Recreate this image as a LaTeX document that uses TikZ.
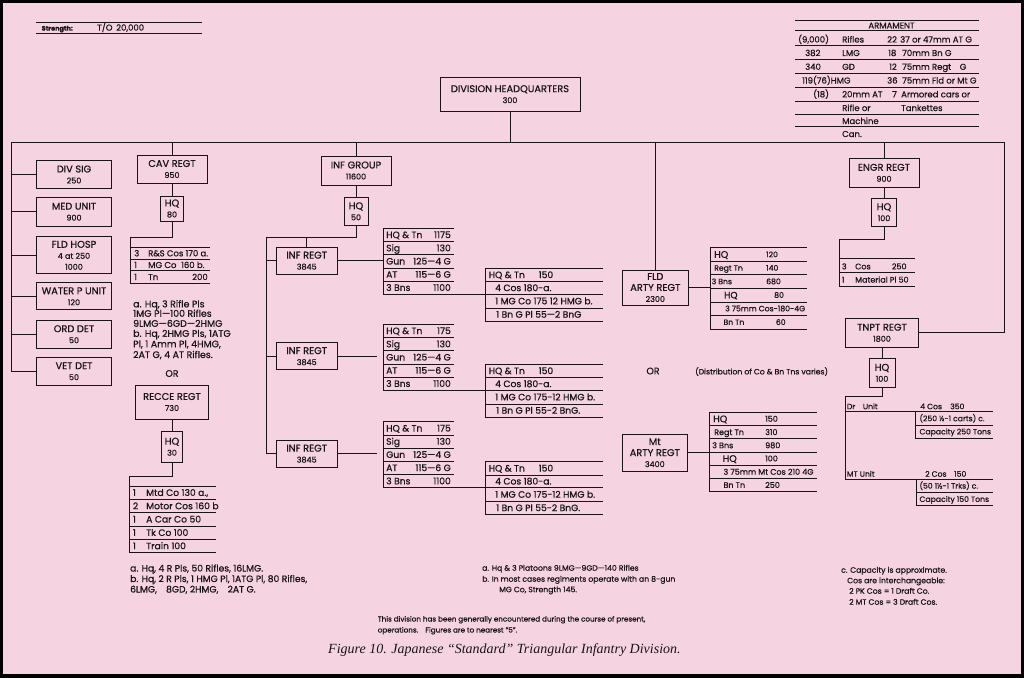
\documentclass[tikz,border=0pt]{standalone}
\usepackage{fontspec}
\setmainfont{Poppins}[FakeBold=0.7]
\newfontfamily\capfont{Liberation Serif}
\definecolor{bgpink}{RGB}{245,211,225}
\definecolor{ink}{RGB}{26,20,26}
\newcommand{\ttlf}{\fontsize{9.8}{11}\selectfont}
\newcommand{\tabf}{\fontsize{8}{9}\selectfont}
\newcommand{\regf}{\fontsize{9.2}{10}\selectfont}
\newcommand{\cvtf}{\fontsize{8.5}{9}\selectfont}
\newcommand{\notef}{\fontsize{9.4}{10}\selectfont}
\newcommand{\rnotef}{\fontsize{9.2}{10}\selectfont}
\newcommand{\smf}{\fontsize{7.7}{8}\selectfont}
\newcommand{\ttf}{\fontsize{7.7}{8}\selectfont}
\newcommand{\arf}{\fontsize{8.5}{9}\selectfont}
\tikzset{
  ln/.style={draw=ink, line width=0.8pt},
  bx/.style={draw=ink, line width=1pt, align=center, inner sep=0pt, font=\ttlf, text=ink},
  tx/.style={inner sep=0pt, anchor=west, text height=5.6pt, text depth=0pt, font=\tabf, text=ink},
  txr/.style={tx, anchor=east},
  txc/.style={tx, anchor=center},
  rg/.style={tx, font=\regf, text height=6.4pt},
  rgr/.style={rg, anchor=east},
  cvt/.style={tx, font=\cvtf, text height=6pt},
  nt/.style={tx, font=\notef, text height=6.6pt},
  rnt/.style={tx, font=\rnotef, text height=6.4pt},
  sm/.style={tx, font=\smf, text height=5.4pt},
  tt/.style={tx, font=\ttf, text height=5.4pt},
  ar/.style={tx, font=\arf, text height=6pt},
}
\newcommand{\tn}[4]{\node[#1] (#2) at (#3) {#4};}
\newcommand{\regtab}[5]{%
  \draw[ln] (454,#2) -- (383.3,#2) -- (383.3,{#2+66}) -- (603.3,{#2+66});
  \foreach \k in {1,2,3,4} {\draw[ln] (383.3,{#2+13.2*\k}) -- (454,{#2+13.2*\k});}
  \draw[ln] (603.3,{#2+40}) -- (485.7,{#2+40}) -- (485.7,{#2+92.8}) -- (603.3,{#2+92.8});
  \draw[ln] (485.7,{#2+53.2}) -- (603.3,{#2+53.2});
  \draw[ln] (485.7,{#2+79.6}) -- (603.3,{#2+79.6});
  \node[rg] (#1a) at (386,{#2+6.6}) {HQ \& Tn};
  \node[rgr] (#1av) at (451,{#2+6.6}) {#3};
  \node[rg] (#1b) at (386,{#2+19.8}) {Sig};
  \node[rgr] (#1bv) at (451,{#2+19.8}) {130};
  \node[rg] (#1c) at (386,{#2+33}) {Gun};
  \node[rgr] (#1cv) at (451,{#2+33}) {125—4 G};
  \node[rg] (#1d) at (386,{#2+46.2}) {AT};
  \node[rgr] (#1dv) at (451,{#2+46.2}) {115—6 G};
  \node[rg] (#1e) at (386,{#2+59.4}) {3 Bns};
  \node[rgr] (#1ev) at (451,{#2+59.4}) {1100};
  \node[rg] (#1f) at (488.5,{#2+46.6}) {HQ \& Tn};
  \node[rg] (#1fv) at (538.5,{#2+46.6}) {150};
  \node[rg] (#1g) at (495,{#2+59.6}) {4 Cos 180-a.};
  \node[rg] (#1h) at (495,{#2+72.8}) {#4};
  \node[rg] (#1i) at (496,{#2+86.2}) {#5};
}
\begin{document}
\begin{tikzpicture}[x=1pt,y=-1pt]
\useasboundingbox (0,0) rectangle (1024,677);
\fill[bgpink] (0,0) rectangle (1024,677);
\draw[black, line width=6pt] (0,0) rectangle (1024,677);

% strength
\draw[ln] (35.6,22.3) -- (202,22.3);
\draw[ln] (35.6,33.3) -- (202,33.3);
\node[tx, font=\fontsize{6.5}{7}\selectfont\bfseries] (str) at (41.5,27.8) {Strength:};
\node[tx, font=\fontsize{8.5}{9}\selectfont] (to) at (97,27.8) {T/O};
\node[tx, font=\fontsize{8.5}{9}\selectfont] (toval) at (116,27.8) {20,000};

% armament
\foreach \y in {20,30.7,45,59.3,73.3,87.3,101.7,114,126.7} {\draw[ln] (795,\y) -- (979,\y);}
\node[ar, anchor=center] (armh) at (891.5,25.5) {ARMAMENT};
\tn{ar}{a1a}{798,39.5}{(9,000)} \tn{ar}{a1b}{842,39.5}{Rifles} \tn{ar}{a1c}{887,39.5}{22} \tn{ar}{a1d}{900,39.5}{37 or 47mm AT G}
\tn{ar}{a2a}{805,53}{382} \tn{ar}{a2b}{842,53}{LMG} \tn{ar}{a2c}{888,53}{18} \tn{ar}{a2d}{902,53}{70mm Bn G}
\tn{ar}{a3a}{805,66.8}{340} \tn{ar}{a3b}{842,66.8}{GD} \tn{ar}{a3c}{889,66.8}{12} \tn{ar}{a3d}{902,66.8}{75mm Regt\quad G}
\tn{ar}{a4a}{802,80.5}{119(76)HMG} \tn{ar}{a4c}{887,80.5}{36} \tn{ar}{a4d}{902,80.5}{75mm Fld or Mt G}
\tn{ar}{a5a}{813,94.3}{(18)} \tn{ar}{a5b}{842,94.3}{20mm AT} \tn{ar}{a5c}{892,94.3}{7} \tn{ar}{a5d}{901,94.3}{Armored cars or}
\tn{ar}{a6b}{842,108}{Rifle or} \tn{ar}{a6d}{901,108}{Tankettes}
\tn{ar}{a7b}{842,121}{Machine}
\tn{ar}{a8b}{842,134}{Can.}

% division HQ
\node[bx, minimum width=140pt, minimum height=33.7pt] (divhq) at (510,94.2) {DIVISION HEADQUARTERS\\{\tabf 300}};
\coordinate (busL) at (11.7,142);
\coordinate (busR) at (1004,142);

% left column
\node[bx, minimum width=74.3pt, minimum height=27.6pt] (divsig) at (74,174.5) {DIV SIG\\{\tabf 250}};
\node[bx, minimum width=74.3pt, minimum height=28.7pt] (medunit) at (74,211.7) {MED UNIT\\{\tabf 900}};
\node[bx, minimum width=74.3pt, minimum height=37.3pt] (fldhosp) at (74,255.3) {FLD HOSP\\{\tabf 4 at 250}\\{\tabf 1000}};
\node[bx, minimum width=74.3pt, minimum height=27.3pt] (waterp) at (74,296.3) {WATER P UNIT\\{\tabf 120}};
\node[bx, minimum width=74.3pt, minimum height=28.3pt] (orddet) at (74,334.2) {ORD DET\\{\tabf 50}};
\node[bx, minimum width=74.3pt, minimum height=27.7pt] (vetdet) at (74,371.2) {VET DET\\{\tabf 50}};

% CAV
\node[bx, minimum width=70pt, minimum height=28pt] (cav) at (172,169) {CAV REGT\\{\tabf 950}};
\node[bx, minimum width=23pt, minimum height=25pt] (cavhq) at (172,208.5) {HQ\\{\tabf 80}};
\coordinate (cavk) at (130,237);
\coordinate (cavb) at (130,283.3);
\draw[ln] (cav.south) -- (cavhq.north);
\draw[ln] (cavhq.south) |- (cavk) -- (cavb);
\foreach \y in {247.3,259.3,270.7,283.3} {\draw[ln] (130,\y) -- (210,\y);}
\tn{cvt}{cv1n}{134,253.3}{3} \tn{cvt}{cv1}{148,253.3}{R\&S Cos 170 a.}
\tn{cvt}{cv2n}{134,265}{1} \tn{cvt}{cv2}{148,265}{MG Co} \tn{cvt}{cv2v}{181,265}{160 b.}
\tn{cvt}{cv3n}{134,277}{1} \tn{cvt}{cv3}{148,277}{Tn} \tn{cvt}{cv3v}{192,277}{200}
\tn{nt}{cn1}{133,304}{a. Hq, 3 Rifle Pls}
\tn{nt}{cn2}{133,313.5}{1MG Pl—100 Rifles}
\tn{nt}{cn3}{133,323.5}{9LMG—6GD—2HMG}
\tn{nt}{cn4}{133,333.5}{b. Hq, 2HMG Pls, 1ATG}
\tn{nt}{cn5}{133,344}{Pl, 1 Amm Pl, 4HMG,}
\tn{nt}{cn6}{133,354.7}{2AT G, 4 AT Rifles.}
\node[nt, anchor=center] (or1) at (172,373.5) {OR};

% RECCE
\node[bx, minimum width=73pt, minimum height=34pt] (recce) at (172,402) {RECCE REGT\\{\tabf 730}};
\node[bx, minimum width=21.6pt, minimum height=31.3pt] (rechq) at (172,446.7) {HQ\\{\tabf 30}};
\coordinate (reck) at (129.3,476);
\coordinate (recb) at (129.3,552.7);
\draw[ln] (recce.south) -- (rechq.north);
\draw[ln] (rechq.south) |- (reck) -- (recb);
\foreach \y in {486,499.3,512.7,526,539.3,552.7} {\draw[ln] (129.3,\y) -- (216,\y);}
\tn{rg}{rc1n}{132.7,492.7}{1} \tn{rg}{rc1}{146,492.7}{Mtd Co 130 a.,}
\tn{rg}{rc2n}{132.7,506}{2} \tn{rg}{rc2}{146,506}{Motor Cos 160 b}
\tn{rg}{rc3n}{132.7,519.3}{1} \tn{rg}{rc3}{146,519.3}{A Car Co 50}
\tn{rg}{rc4n}{132.7,532.7}{1} \tn{rg}{rc4}{146,532.7}{Tk Co 100}
\tn{rg}{rc5n}{132.7,546}{1} \tn{rg}{rc5}{146,546}{Train 100}
\tn{rnt}{rn1}{130,568.3}{a. Hq, 4 R Pls, 50 Rifles, 16LMG.}
\tn{rnt}{rn2}{130,578.8}{b. Hq, 2 R Pls, 1 HMG Pl, 1ATG Pl, 80 Rifles,}
\tn{rnt}{rn3}{130,589.3}{6LMG,\quad 8GD, 2HMG,\quad 2AT G.}

% INF GROUP
\node[bx, minimum width=70pt, minimum height=29pt] (infgrp) at (356,170.5) {INF GROUP\\{\tabf 11600}};
\node[bx, minimum width=24pt, minimum height=28pt] (infhq) at (356,211.3) {HQ\\{\tabf 50}};
\coordinate (igL) at (266.7,237.3);
\node[bx, minimum width=61pt, minimum height=26.7pt] (reg1) at (306.7,260.7) {INF REGT\\{\tabf 3845}};
\node[bx, minimum width=61pt, minimum height=26.7pt] (reg2) at (306.7,356.2) {INF REGT\\{\tabf 3845}};
\node[bx, minimum width=61pt, minimum height=26.7pt] (reg3) at (306.7,453.7) {INF REGT\\{\tabf 3845}};
\draw[ln] (infgrp.south) -- (infhq.north);
\draw[ln] (infhq.south) |- (igL) |- (reg3.west);
\draw[ln] (reg1.north) -- (reg1.north |- igL);
\draw[ln] (reg1.west) -- (reg1.west -| igL);
\draw[ln] (reg2.west) -- (reg2.west -| igL);
\coordinate (ta) at (383.3,260.7);
\coordinate (tb) at (376.7,356.2);
\coordinate (tc) at (376.7,453.7);
\draw[ln] (reg1.east) -- (ta);
\draw[ln] (reg2.east) -- (tb);
\draw[ln] (reg3.east) -- (tc);
\regtab{ra}{228.3}{1175}{1 MG Co 175 12 HMG b.}{1 Bn G Pl 55—2 BnG}
\regtab{rb}{324.3}{175}{1 MG Co 175-12 HMG b.}{1 Bn G Pl 55-2 BnG.}
\regtab{rc}{421.7}{175}{1 MG Co 175-12 HMG b.}{1 Bn G Pl 55-2 BnG.}

% FLD ARTY
\node[bx, minimum width=66pt, minimum height=35pt] (fld) at (655.3,287.5) {FLD\\ARTY REGT\\{\tabf 2300}};
\coordinate (fldt) at (710,287.5);
\draw[ln] (fld.east) -- (fldt);
\draw[ln] (710,247.7) -- (710,329);
\foreach \y in {247.7,261.2,274.8,288.3,301.9,315.4,329} {\draw[ln] (710,\y) -- (806.7,\y);}
\node[tx, font=\fontsize{9.5}{10}\selectfont, text height=6.6pt] (f1) at (714,254.5) {HQ}; \tn{tt}{f1v}{766,254.5}{120}
\tn{tt}{f2}{714,268}{Regt Tn} \tn{tt}{f2v}{766,268}{140}
\tn{tt}{f3}{711.5,281.5}{3 Bns} \tn{tt}{f3v}{766,281.5}{680}
\node[tx, font=\fontsize{9}{10}\selectfont, text height=6.3pt] (f4) at (724,295.1) {HQ}; \tn{tt}{f4v}{774,295.1}{80}
\tn{tt}{f5}{725,308.6}{3 75mm Cos-180-4G}
\tn{tt}{f6}{723.3,322.2}{Bn Tn} \tn{tt}{f6v}{775.7,322.2}{60}
\node[nt, anchor=center] (or2) at (653,371) {OR};
\tn{sm}{dist}{695,371.7}{(Distribution of Co \& Bn Tns varies)}

% Mt ARTY
\node[bx, minimum width=65pt, minimum height=36.7pt] (mt) at (654.8,452.7) {Mt\\ARTY REGT\\{\tabf 3400}};
\coordinate (mtt) at (709.3,452.7);
\draw[ln] (mt.east) -- (mtt);
\draw[ln] (709.3,412.3) -- (709.3,491.7);
\foreach \y in {412.3,425.5,438.8,452,465.2,478.5,491.7} {\draw[ln] (709.3,\y) -- (816.7,\y);}
\node[tx, font=\fontsize{9.5}{10}\selectfont, text height=6.6pt] (m1) at (713,418.9) {HQ}; \tn{tx}{m1v}{765,418.9}{150}
\tn{tx}{m2}{714,432.2}{Regt Tn} \tn{tx}{m2v}{765,432.2}{310}
\tn{tx}{m3}{712,445.4}{3 Bns} \tn{tx}{m3v}{765,445.4}{980}
\node[tx, font=\fontsize{9.5}{10}\selectfont, text height=6.6pt] (m4) at (722.5,458.6) {HQ}; \tn{tx}{m4v}{765,458.6}{100}
\tn{tx}{m5}{723.3,471.9}{3 75mm Mt Cos 210 4G}
\tn{tx}{m6}{723.3,485.1}{Bn Tn} \tn{tx}{m6v}{765,485.1}{250}

% ENGR
\node[bx, minimum width=70pt, minimum height=29pt] (engr) at (884,172.8) {ENGR REGT\\{\tabf 900}};
\node[bx, minimum width=24.4pt, minimum height=27.7pt] (enghq) at (884,212.2) {HQ\\{\tabf 100}};
\coordinate (engk) at (839,239);
\coordinate (engb) at (839,286);
\draw[ln] (engr.south) -- (enghq.north);
\draw[ln] (enghq.south) |- (engk) -- (engb);
\foreach \y in {258.5,272.5,286} {\draw[ln] (839,\y) -- (915,\y);}
\tn{tx}{e1n}{841.7,266.5}{3} \tn{tx}{e1}{855,266.5}{Cos} \tn{tx}{e1v}{891.7,266.5}{250}
\tn{tx}{e2n}{841.7,279.8}{1} \tn{tx}{e2}{855,279.8}{Material Pl 50}

% TNPT
\node[bx, minimum width=72.6pt, minimum height=29pt] (tnpt) at (882,332.8) {TNPT REGT\\{\tabf 1800}};
\node[bx, minimum width=26pt, minimum height=29pt] (tnhq) at (882,372.8) {HQ\\{\tabf 100}};
\coordinate (tnk) at (845.7,396.7);
\coordinate (tnb) at (845.7,479);
\coordinate (mtend) at (992.7,479);
\coordinate (drk) at (845.7,411.7);
\coordinate (drend) at (992.7,411.7);
\draw[ln] (tnpt.south) -- (tnhq.north);
\draw[ln] (tnhq.south) |- (tnk) -- (tnb) -- (mtend);
\draw[ln] (drk) -- (drend);
\draw[ln] (915,411.7) -- (915,438.3);
\draw[ln] (915,425) -- (992.7,425);
\draw[ln] (915,438.3) -- (992.7,438.3);
\draw[ln] (916.7,479) -- (916.7,505.7);
\draw[ln] (916.7,492.3) -- (992.7,492.3);
\draw[ln] (916.7,505.7) -- (992.7,505.7);
\tn{tt}{dru}{846.7,406.5}{Dr\quad Unit} \tn{tt}{drc}{920,406.5}{4 Cos} \tn{tt}{drv}{950,406.5}{350}
\tn{tt}{dr1}{919.3,418.5}{(250 ½-1 carts) c.}
\tn{tt}{dr2}{919.3,431.7}{Capacity 250 Tons}
\tn{tt}{mtu}{846.7,474}{MT Unit} \tn{tt}{mtc}{925,474}{2 Cos} \tn{tt}{mtv}{954,474}{150}
\tn{tt}{mt1}{919.3,485.9}{(50 1½-1 Trks) c.}
\tn{tt}{mt2}{919.3,499.2}{Capacity 150 Tons}

% main connectors
\draw[ln, line width=1pt] (busL) -- (busR) |- (tnpt.east);
\draw[ln] (busL) |- (vetdet.west);
\foreach \n in {divsig,medunit,fldhosp,waterp,orddet} {\draw[ln] (\n.west) -- (\n.west -| busL);}
\draw[ln] (divhq.south) -- (divhq.south |- busL);
\draw[ln] (cav.north) -- (cav.north |- busL);
\draw[ln] (infgrp.north) -- (infgrp.north |- busL);
\draw[ln] (fld.north) -- (fld.north |- busL);
\draw[ln] (engr.north) -- (engr.north |- busL);

% bottom notes
\tn{sm}{na}{482,568}{a. Hq \& 3 Platoons 9LMG—9GD—140 Rifles}
\tn{sm}{nb}{482,579}{b. In most cases regiments operate with an 8-gun}
\tn{sm}{nb2}{499,589.5}{MG Co, Strength 145.}
\tn{sm}{nc}{841,570}{c. Capacity is approximate.}
\tn{sm}{nc2}{847,580.5}{Cos are interchangeable:}
\tn{sm}{nc3}{849,591}{2 PK Cos = 1 Draft Co.}
\tn{sm}{nc4}{849,602}{2 MT Cos = 3 Draft Cos.}
\node[tx, font=\fontsize{7.2}{8}\selectfont, text height=5pt] (nd) at (377.6,619) {This division has been generally encountered during the course of present,};
\node[tx, font=\fontsize{7.2}{8}\selectfont, text height=5pt] (nd2) at (377.6,630) {operations.\quad Figures are to nearest “5”.};
\node[inner sep=0pt, anchor=west, text=ink, font=\capfont\itshape\fontsize{14}{16}\selectfont] (cap) at (328,650) {Figure 10. Japanese “Standard” Triangular Infantry Division.};
\end{tikzpicture}
\end{document}
